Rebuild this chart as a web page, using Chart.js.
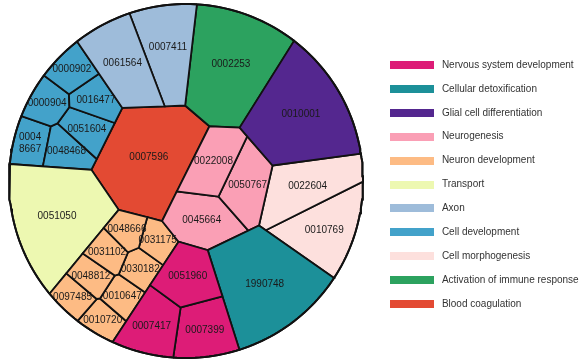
<!DOCTYPE html>
<html>
<head>
<meta charset="utf-8">
<script src="https://cdn.jsdelivr.net/npm/chart.js@4.4.0/dist/chart.umd.min.js"></script>
<style>
  html, body { margin: 0; padding: 0; background: #fff; overflow: hidden; }
  #grafico { display: block; }
</style>
</head>
<body>
<canvas id="grafico" width="586" height="359"></canvas>
<script>
// categories, legend order
var groups = ['Nervous system development', 'Cellular detoxification', 'Glial cell differentiation',
  'Neurogenesis', 'Neuron development', 'Transport', 'Axon', 'Cell development',
  'Cell morphogenesis', 'Activation of immune response', 'Blood coagulation'];

// GO terms of each category
var terms = [
  ['0051960', '0007417', '0007399'],
  ['1990748'],
  ['0010001'],
  ['0022008', '0050767', '0045664'],
  ['0048666', '0031175', '0031102', '0030182', '0048812', '0010647', '0097485', '0010720'],
  ['0051050'],
  ['0061564', '0007411'],
  ['0000902', '0016477', '0000904', '0051604', '0048468', '00048667'],
  ['0022604', '0010769'],
  ['0002253'],
  ['0007596']
];

// share of each term (% of the circle)
var termValues = [
  [3.03, 3.03, 3.03],
  [9.09],
  [9.09],
  [2.9, 2.9, 3.3],
  [1.14, 1.14, 1.14, 1.14, 1.14, 1.14, 1.14, 1.14],
  [9.09],
  [4.55, 4.55],
  [1.52, 1.52, 1.52, 1.52, 1.52, 1.52],
  [4.55, 4.55],
  [9.09],
  [9.09]
];

var groupColors = ['#DD1C77', '#1C9099', '#54278F', '#FA9FB5', '#FDBB84', '#EDF8B1',
  '#9EBCDA', '#43A2CA', '#FDE0DD', '#2CA25F', '#E34A33'];

// sites for the voronoi layout (unit circle, y up)
var groupSeeds = [[-0.03, -0.70], [0.41, -0.56], [0.62, 0.36], [0.16, -0.04], [-0.38, -0.47],
  [-0.72, -0.19], [-0.24, 0.68], [-0.68, 0.38], [0.69, -0.16], [0.19, 0.63], [-0.22, 0.15]];
var termSeeds = [
  [[0, -0.51], [-0.19, -0.77], [0.08, -0.81]],
  [[0.41, -0.56]],
  [[0.62, 0.36]],
  [[0.11, 0.11], [0.32, 0.01], [0.07, -0.21]],
  [[-0.33, -0.26], [-0.15, -0.31], [-0.44, -0.37], [-0.25, -0.45], [-0.53, -0.50], [-0.36, -0.61], [-0.64, -0.63], [-0.49, -0.76]],
  [[-0.72, -0.19]],
  [[-0.38, 0.63], [-0.09, 0.74]],
  [[-0.64, 0.66], [-0.51, 0.47], [-0.79, 0.46], [-0.57, 0.30], [-0.67, 0.19], [-0.87, 0.23]],
  [[0.64, -0.05], [0.75, -0.27]],
  [[0.19, 0.63]],
  [[-0.22, 0.15]]
];

// ---- weighted voronoi (power diagram) treemap ----
function clipHalf(poly, a, b, c) {
  var out = [];
  for (var i = 0; i < poly.length; i++) {
    var p = poly[i], q = poly[(i + 1) % poly.length];
    var fp = a * p[0] + b * p[1] - c, fq = a * q[0] + b * q[1] - c;
    if (fp <= 0) out.push(p);
    if ((fp < 0 && fq > 0) || (fp > 0 && fq < 0)) {
      var t = fp / (fp - fq);
      out.push([p[0] + t * (q[0] - p[0]), p[1] + t * (q[1] - p[1])]);
    }
  }
  return out;
}

function powerCell(box, sites, w, i) {
  var s = sites[i], poly = box;
  for (var j = 0; j < sites.length && poly.length; j++) {
    if (j === i) continue;
    var t = sites[j];
    poly = clipHalf(poly, 2 * (t[0] - s[0]), 2 * (t[1] - s[1]),
      t[0] * t[0] + t[1] * t[1] - s[0] * s[0] - s[1] * s[1] - w[j] + w[i]);
  }
  return poly;
}

function polyInfo(poly) {
  var a = 0, cx = 0, cy = 0;
  for (var i = 0; i < poly.length; i++) {
    var p = poly[i], q = poly[(i + 1) % poly.length];
    var cr = p[0] * q[1] - q[0] * p[1];
    a += cr; cx += (p[0] + q[0]) * cr; cy += (p[1] + q[1]) * cr;
  }
  if (Math.abs(a) < 1e-12) return { area: 0, cx: 0, cy: 0 };
  return { area: Math.abs(a) / 2, cx: cx / (3 * a), cy: cy / (3 * a) };
}

function inside(poly, p) {
  var sign = 0;
  for (var i = 0; i < poly.length; i++) {
    var a = poly[i], b = poly[(i + 1) % poly.length];
    var cr = (b[0] - a[0]) * (p[1] - a[1]) - (b[1] - a[1]) * (p[0] - a[0]);
    if (Math.abs(cr) < 1e-12) continue;
    var s = cr > 0 ? 1 : -1;
    if (sign === 0) sign = s; else if (s !== sign) return false;
  }
  return true;
}

// damped newton steps on the weights, sites fixed
function solveWeights(box, sites, w, target, rounds, boxArea) {
  var dw = boxArea * 1e-3;
  for (var r = 0; r < rounds; r++) {
    var next = w.slice();
    for (var i = 0; i < sites.length; i++) {
      var a0 = polyInfo(powerCell(box, sites, w, i)).area;
      w[i] += dw;
      var a1 = polyInfo(powerCell(box, sites, w, i)).area;
      w[i] -= dw;
      var slope = (a1 - a0) / dw;
      if (slope > 1e-6) next[i] = w[i] + 0.5 * (target[i] - a0) / slope;
      else next[i] = w[i] + (target[i] - a0) * 2;
    }
    for (var k = 0; k < w.length; k++) w[k] = next[k];
  }
}

function voronoiMap(box, seeds, values) {
  if (values.length === 1) return [box];
  var boxInfo = polyInfo(box);
  var total = values.reduce(function(a, b) { return a + b; }, 0);
  var target = values.map(function(v) { return v / total * boxInfo.area; });
  var sites = seeds.map(function(p) {
    var s = p.slice(), n = 0;
    while (!inside(box, s) && n++ < 30) {
      s = [s[0] + 0.15 * (boxInfo.cx - s[0]), s[1] + 0.15 * (boxInfo.cy - s[1])];
    }
    return s;
  });
  var w = values.map(function() { return 0; });
  solveWeights(box, sites, w, target, 80, boxInfo.area);
  return sites.map(function(s, i) { return powerCell(box, sites, w, i); });
}

var circle = [];
for (var k = 0; k < 240; k++) {
  var ang = k / 240 * Math.PI * 2;
  circle.push([Math.cos(ang), Math.sin(ang)]);
}

var groupTotals = termValues.map(function(v) { return v.reduce(function(a, b) { return a + b; }, 0); });
var groupCells = voronoiMap(circle, groupSeeds, groupTotals);

var cellList = [];
groups.forEach(function(g, gi) {
  var cells = voronoiMap(groupCells[gi], termSeeds[gi], termValues[gi]);
  cells.forEach(function(poly, ti) {
    var info = polyInfo(poly);
    cellList.push({ name: terms[gi][ti], group: gi, poly: poly, cx: info.cx, cy: info.cy });
  });
});

function toPoints(poly) {
  var pts = poly.map(function(p) { return { x: p[0], y: p[1] }; });
  if (pts.length) pts.push({ x: pts[0].x, y: pts[0].y });
  return pts;
}

var datasets = [{
  label: 'outline',
  data: toPoints(circle),
  showLine: true, fill: false, borderColor: '#111', borderWidth: 2, pointRadius: 0, clip: false
}];
cellList.forEach(function(c) {
  datasets.push({
    label: c.name,
    data: toPoints(c.poly),
    showLine: true,
    fill: 'shape',
    backgroundColor: groupColors[c.group],
    borderColor: '#111',
    borderWidth: 1.8,
    pointRadius: 0,
    clip: false
  });
});

function spanAt(poly, y) {
  var xs = [];
  for (var i = 0; i < poly.length; i++) {
    var p = poly[i], q = poly[(i + 1) % poly.length];
    if ((p[1] - y) * (q[1] - y) <= 0 && p[1] !== q[1]) {
      xs.push(p[0] + (y - p[1]) / (q[1] - p[1]) * (q[0] - p[0]));
    }
  }
  if (xs.length < 2) return 0;
  return Math.max.apply(null, xs) - Math.min.apply(null, xs);
}

var termLabels = {
  id: 'termLabels',
  afterDatasetsDraw: function(chart) {
    var ctx = chart.ctx, sx = chart.scales.x, sy = chart.scales.y;
    var unit = sx.getPixelForValue(1) - sx.getPixelForValue(0);
    ctx.save();
    ctx.font = '10px "Liberation Sans", Arial, sans-serif';
    ctx.fillStyle = '#1a1a1a';
    ctx.textAlign = 'center';
    ctx.textBaseline = 'middle';
    cellList.forEach(function(c) {
      var px = sx.getPixelForValue(c.cx), py = sy.getPixelForValue(c.cy);
      var room = spanAt(c.poly, c.cy) * unit;
      var half = Math.ceil(c.name.length / 2);
      if (ctx.measureText(c.name).width > room + 6) {
        ctx.fillText(c.name.slice(0, half), px, py - 6);
        ctx.fillText(c.name.slice(half), px, py + 6);
      } else {
        ctx.fillText(c.name, px, py);
      }
    });
    ctx.restore();
  }
};

function swatch(color) {
  var cv = document.createElement('canvas');
  cv.width = 44; cv.height = 8;
  var c2 = cv.getContext('2d');
  c2.fillStyle = color;
  c2.fillRect(0, 0, 44, 8);
  return cv;
}

var ctx = document.getElementById('grafico').getContext('2d');

var options = {
  responsive: false,
  animation: false,
  devicePixelRatio: 1,
  events: [],
  layout: { padding: 0 },
  scales: {
    x: { type: 'linear', min: -186 / 177, max: 187 / 177, display: false },
    y: { type: 'linear', min: -178 / 177, max: 181 / 177, display: false }
  },
  plugins: {
    tooltip: { enabled: false },
    legend: {
      position: 'right',
      maxWidth: 213,
      title: { display: true, text: ' ', font: { size: 10, lineHeight: 1 }, padding: 0 },
      labels: {
        usePointStyle: true,
        pointStyleWidth: 50,
        boxHeight: 8,
        padding: 13.9,
        color: '#333',
        font: { size: 10, family: '"Liberation Sans", Arial, sans-serif' },
        generateLabels: function() {
          return groups.map(function(g, i) {
            return {
              text: g, fillStyle: groupColors[i], strokeStyle: groupColors[i],
              lineWidth: 0, pointStyle: swatch(groupColors[i]), hidden: false, fontColor: '#333'
            };
          });
        }
      }
    }
  }
};

var grafico = new Chart(ctx, {
  type: 'scatter',
  data: { datasets: datasets },
  options: options,
  plugins: [termLabels]
});
</script>
</body>
</html>
